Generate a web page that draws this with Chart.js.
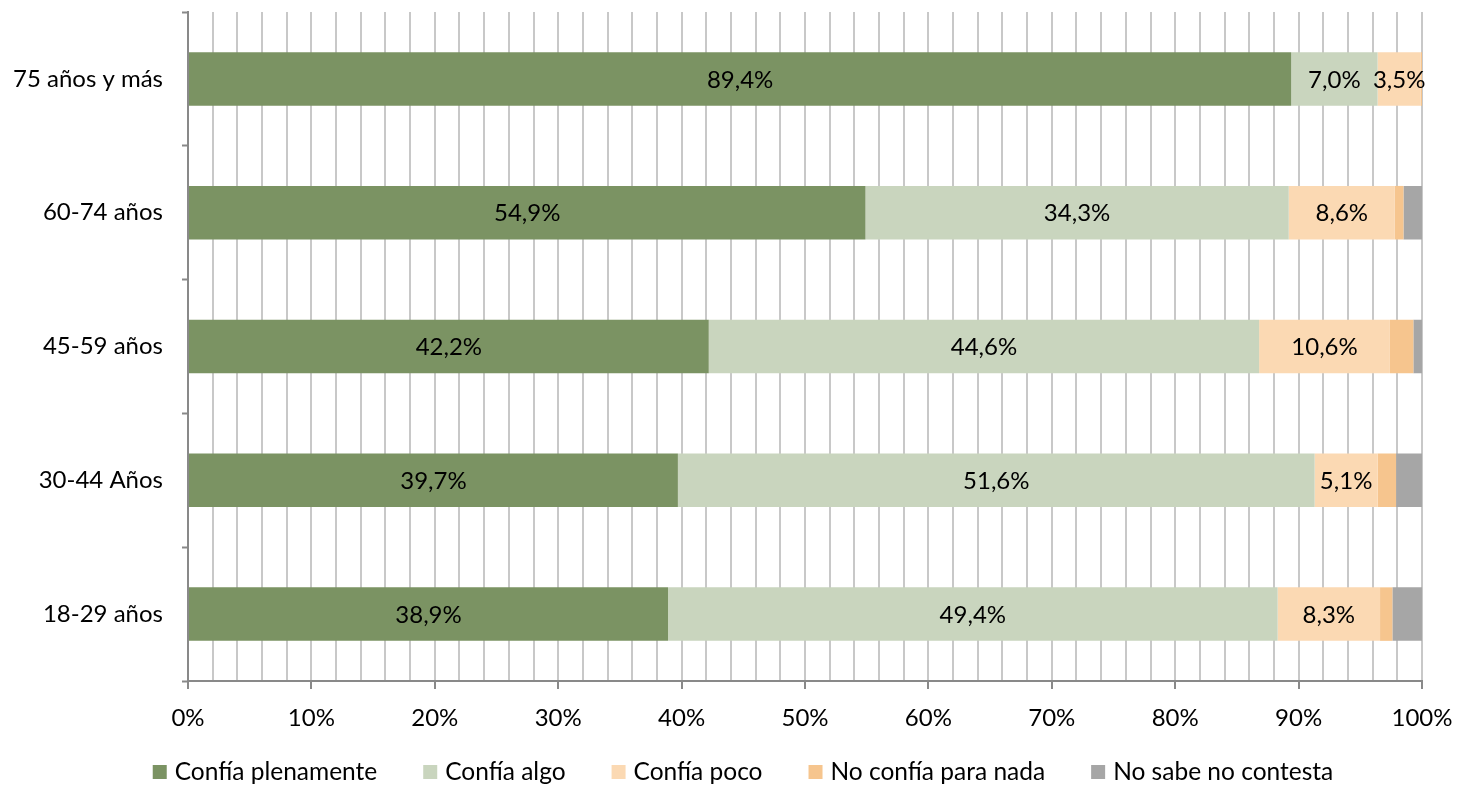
<!DOCTYPE html>
<html>
<head>
<meta charset="utf-8">
<script src="https://cdn.jsdelivr.net/npm/chart.js@4/dist/chart.umd.min.js"></script>
<style>
  html, body { margin: 0; padding: 0; background: #ffffff; }
  #wrap { width: 1468px; height: 786px; position: relative; }
</style>
</head>
<body>
<div id="wrap"><canvas id="c" width="1468" height="786"></canvas></div>
<script>
const categories = ['75 años y más', '60-74 años', '45-59 años', '30-44 Años', '18-29 años'];
const seriesNames = ['Confía plenamente', 'Confía algo', 'Confía poco', 'No confía para nada', 'No sabe no contesta'];
const confiaPlenamente = [89.4, 54.9, 42.2, 39.7, 38.9];
const confiaAlgo = [7.0, 34.3, 44.6, 51.6, 49.4];
const confiaPoco = [3.5, 8.6, 10.6, 5.1, 8.3];
const noConfiaNada = [0.1, 0.7, 1.9, 1.5, 1.0];
const noSabe = [0.0, 1.5, 0.7, 2.1, 2.4];
const xTicks = [0, 10, 20, 30, 40, 50, 60, 70, 80, 90, 100];

const colors = ['#7b9363', '#c9d5be', '#fbd9b3', '#f6c58e', '#a6a6a6'];
const FONT = 'Lato';
const FS = 24;

const labelPlugin = {
  id: 'segLabels',
  afterDatasetsDraw(chart) {
    const ctx = chart.ctx;
    ctx.save();
    ctx.font = FS + 'px ' + FONT;
    ctx.fillStyle = '#000000';
    ctx.textAlign = 'center';
    ctx.textBaseline = 'middle';
    [0, 1, 2].forEach(di => {
      const meta = chart.getDatasetMeta(di);
      meta.data.forEach((el, i) => {
        const v = chart.data.datasets[di].data[i];
        const cx = (el.x + el.base) / 2;
        ctx.fillText(v.toFixed(1).replace('.', ',') + '%', cx, el.y + 1);
      });
    });
    ctx.restore();
  }
};

const legendPlugin = {
  id: 'bottomLegend',
  afterDraw(chart) {
    const ctx = chart.ctx;
    const box = 14, gapText = 8, gapItem = 46;
    const centerX = 743, centerY = 772;
    ctx.save();
    ctx.font = '24.5px ' + FONT;
    ctx.textBaseline = 'middle';
    ctx.textAlign = 'left';
    const items = chart.data.datasets.map(ds => ({
      text: ds.label,
      color: ds.backgroundColor,
      w: ctx.measureText(ds.label).width
    }));
    let total = 0;
    items.forEach((it, i) => { total += box + gapText + it.w + (i < items.length - 1 ? gapItem : 0); });
    let x = centerX - total / 2;
    items.forEach(it => {
      ctx.fillStyle = it.color;
      ctx.fillRect(x, centerY - box / 2, box, box);
      ctx.fillStyle = '#000000';
      ctx.fillText(it.text, x + box + gapText, centerY);
      x += box + gapText + it.w + gapItem;
    });
    ctx.restore();
  }
};

const allSeries = [confiaPlenamente, confiaAlgo, confiaPoco, noConfiaNada, noSabe];

new Chart(document.getElementById('c'), {
  type: 'bar',
  data: {
    labels: categories,
    datasets: allSeries.map((d, k) => ({
      label: seriesNames[k],
      data: d,
      backgroundColor: colors[k],
      borderWidth: 0,
      barPercentage: 0.4,
      categoryPercentage: 1.0
    }))
  },
  options: {
    indexAxis: 'y',
    responsive: false,
    animation: false,
    layout: { padding: { left: 0, right: 46, top: 12, bottom: 46 } },
    scales: {
      x: {
        stacked: true,
        min: 0,
        max: 100,
        ticks: {
          stepSize: 2,
          autoSkip: false,
          maxRotation: 0,
          padding: 15,
          color: '#000000',
          font: { family: FONT, size: FS },
          callback: (v) => (xTicks.includes(v) ? v + '%' : '')
        },
        grid: {
          color: '#c8c8c8',
          lineWidth: 2,
          tickLength: 8,
          tickWidth: 2,
          tickColor: (c) => (c.tick && xTicks.includes(c.tick.value) ? '#898989' : 'rgba(0,0,0,0)')
        },
        border: { color: '#898989', width: 2 },
        afterFit(scale) { scale.height = 59; }
      },
      y: {
        stacked: true,
        ticks: {
          padding: 19,
          color: '#000000',
          font: { family: FONT, size: FS }
        },
        grid: {
          offset: true,
          drawOnChartArea: false,
          tickLength: 6,
          tickWidth: 2,
          tickColor: '#898989',
          color: '#898989'
        },
        border: { color: '#898989', width: 2 },
        afterFit(scale) { scale.width = 188; scale.paddingTop = 0; scale.paddingBottom = 0; }
      }
    },
    plugins: {
      legend: { display: false },
      tooltip: { enabled: false }
    }
  },
  plugins: [labelPlugin, legendPlugin]
});
</script>
</body>
</html>
